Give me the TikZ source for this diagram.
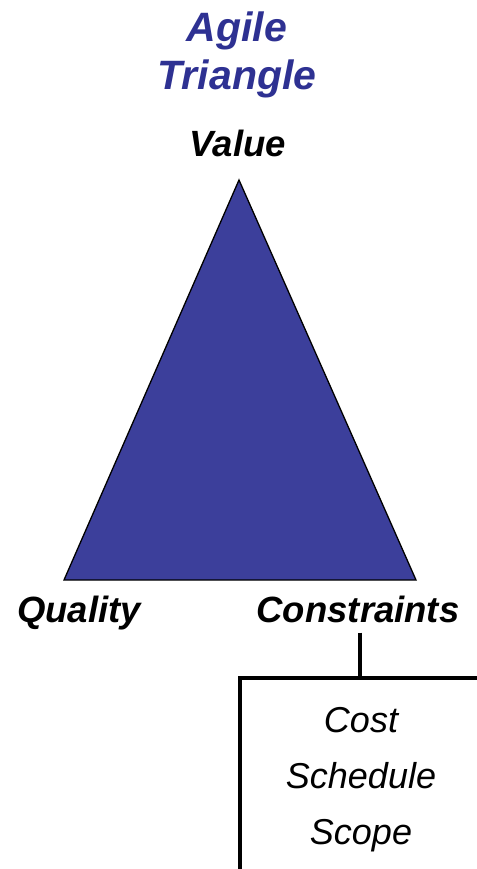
\documentclass[tikz,border=0pt]{standalone}
\usepackage{fontspec}
\setmainfont{Liberation Sans}
\usetikzlibrary{positioning}
\definecolor{TriFill}{HTML}{3C3F9B}
\definecolor{TitleBlue}{HTML}{2E3192}
\tikzset{title/.style={text=TitleBlue,font=\bfseries\itshape\fontsize{41}{48}\selectfont,align=center,anchor=base},corner/.style={text=black,font=\bfseries\itshape\fontsize{36.5}{40}\selectfont,anchor=base,inner sep=0pt},items/.style={font=\itshape\fontsize{36}{56}\selectfont,align=center,anchor=base,inner sep=0pt},frame/.style={draw=black,line width=4pt}}

\begin{document}
\begin{tikzpicture}[x=1pt,y=-1pt]
\useasboundingbox (0,0) rectangle (476,869);
\node[title] (ttl) at (237,90) {Agile\\Triangle};
% triangle corners
\coordinate (apex) at (239,180);
\coordinate (bl) at (64,580);
\coordinate (br) at (416,580);
\fill[TriFill] (apex) -- (bl) -- (br) -- cycle;
\draw[line width=1.3pt,line join=miter] (apex) -- (bl) -- (br) -- cycle;
\node[corner] (value) at (238,157) {Value};
\node[corner] (quality) at (79,622) {Quality};
\node[corner] (constraints) at (358,622) {Constraints};
% constraint list
\node[items] (list) at (361,844) {Cost\\Schedule\\Scope};
\coordinate (boxtl) at (240,678);
\coordinate (boxtr) at (476,678);
\coordinate (boxbl) at (240,869);
\draw[frame] (constraints.south -| 360,0) ++(0,10) -- (360,678);
\draw[frame,line cap=rect] (boxbl) -- (boxtl) -- (boxtr);
\end{tikzpicture}
\end{document}
